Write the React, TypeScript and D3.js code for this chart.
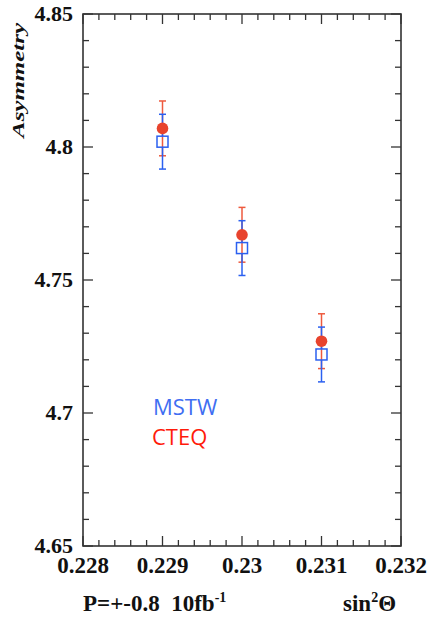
import React from "react";
import * as d3 from "d3";

// sin^2(theta) positions of the three samples
const sinValues = [0.229, 0.23, 0.231];
// asymmetry predicted with CTEQ PDFs
const cteqValues = [4.807, 4.767, 4.727];
const cteqErrors = [0.0103, 0.0103, 0.0103];
// asymmetry predicted with MSTW PDFs
const mstwValues = [4.802, 4.762, 4.722];
const mstwErrors = [0.0103, 0.0103, 0.0103];

const xTickLabels = [0.228, 0.229, 0.23, 0.231, 0.232];
const yTickLabels = [4.65, 4.7, 4.75, 4.8, 4.85];

const W = 431;
const H = 620;
const frame = { left: 83, right: 401, top: 14, bottom: 546 };

const RED = "#e8432d";
const RED_BAR = "#ee5a3e";
const BLUE = "#2b60f0";
const AXIS = "#333";
const serif = "'Liberation Serif', 'Times New Roman', serif";

export default function App() {
  const x = d3.scaleLinear().domain([0.228, 0.232]).range([frame.left, frame.right]);
  const y = d3.scaleLinear().domain([4.65, 4.85]).range([frame.bottom, frame.top]);

  const xMinor = d3.range(0, 21).map((i) => 0.228 + i * 0.0002);
  const yMinor = d3.range(0, 21).map((i) => 4.65 + i * 0.01);
  const isMajorX = (v: number) => Math.abs(v * 1000 - Math.round(v * 1000)) < 1e-6;
  const isMajorY = (v: number) => Math.abs(v * 20 - Math.round(v * 20)) < 1e-6;

  const cap = 3.5;
  const half = 5.5;

  return (
    <svg
      width={W}
      height={H}
      style={{ position: "absolute", left: 0, top: 0, background: "#fff" }}
    >
      {/* frame */}
      <rect
        x={frame.left}
        y={frame.top}
        width={frame.right - frame.left}
        height={frame.bottom - frame.top}
        fill="none"
        stroke={AXIS}
        strokeWidth={1.6}
      />
      {/* x ticks, bottom and top */}
      {xMinor.map((v, i) => {
        const len = isMajorX(v) ? 10 : 6;
        const px = x(v);
        return (
          <g key={"xt" + i} stroke={AXIS} strokeWidth={1.3}>
            <line x1={px} x2={px} y1={frame.bottom} y2={frame.bottom - len} />
            <line x1={px} x2={px} y1={frame.top} y2={frame.top + len} />
          </g>
        );
      })}
      {/* y ticks, left and right */}
      {yMinor.map((v, i) => {
        const len = isMajorY(v) ? 10 : 6;
        const py = y(v);
        return (
          <g key={"yt" + i} stroke={AXIS} strokeWidth={1.3}>
            <line x1={frame.left} x2={frame.left + len} y1={py} y2={py} />
            <line x1={frame.right} x2={frame.right - len} y1={py} y2={py} />
          </g>
        );
      })}
      {/* tick labels */}
      {xTickLabels.map((v) => (
        <text
          key={"xl" + v}
          x={x(v)}
          y={frame.bottom + 27}
          textAnchor="middle"
          fontFamily={serif}
          fontWeight="bold"
          fontSize={23}
          fill="#111"
        >
          {String(v)}
        </text>
      ))}
      {yTickLabels.map((v) => (
        <text
          key={"yl" + v}
          x={frame.left - 10}
          y={y(v)}
          dy="0.34em"
          textAnchor="end"
          fontFamily={serif}
          fontWeight="bold"
          fontSize={22}
          fill="#111"
        >
          {String(v)}
        </text>
      ))}
      {/* y axis title */}
      <text
        transform={`translate(24,23) rotate(-90)`}
        textAnchor="end"
        fontFamily={serif}
        fontWeight="bold"
        fontStyle="italic"
        fontSize={16}
        textLength={115}
        lengthAdjust="spacingAndGlyphs"
        fill="#111"
      >
        Asymmetry
      </text>
      {/* bottom captions */}
      <text x={83} y={611} fontFamily={serif} fontWeight="bold" fontSize={23} fill="#111">
        P=+-0.8{"\u00a0\u00a0"}10fb
        <tspan dy={-9} fontSize={14}>-1</tspan>
      </text>
      <text x={343} y={611} fontFamily={serif} fontWeight="bold" fontSize={23} fill="#111">
        sin
        <tspan dy={-9} fontSize={14}>2</tspan>
        <tspan dy={9}>Θ</tspan>
      </text>

      {/* CTEQ error bars */}
      {sinValues.map((s, i) => {
        const px = x(s);
        const y1 = y(cteqValues[i] + cteqErrors[i]);
        const y0 = y(cteqValues[i] - cteqErrors[i]);
        return (
          <g key={"ce" + i} stroke={RED_BAR} strokeWidth={1.5}>
            <line x1={px} x2={px} y1={y1} y2={y0} />
            <line x1={px - cap} x2={px + cap} y1={y1} y2={y1} />
            <line x1={px - cap} x2={px + cap} y1={y0} y2={y0} />
          </g>
        );
      })}
      {/* MSTW error bars, open around the marker */}
      {sinValues.map((s, i) => {
        const px = x(s);
        const pc = y(mstwValues[i]);
        const y1 = y(mstwValues[i] + mstwErrors[i]);
        const y0 = y(mstwValues[i] - mstwErrors[i]);
        return (
          <g key={"me" + i} stroke={BLUE} strokeWidth={1.5}>
            <line x1={px} x2={px} y1={y1} y2={pc - half} />
            <line x1={px} x2={px} y1={pc + half} y2={y0} />
            <line x1={px - cap} x2={px + cap} y1={y1} y2={y1} />
            <line x1={px - cap} x2={px + cap} y1={y0} y2={y0} />
          </g>
        );
      })}
      {/* MSTW markers */}
      {sinValues.map((s, i) => (
        <rect
          key={"mm" + i}
          x={x(s) - half}
          y={y(mstwValues[i]) - half}
          width={half * 2}
          height={half * 2}
          fill="none"
          stroke={BLUE}
          strokeWidth={1.5}
        />
      ))}
      {/* CTEQ markers */}
      {sinValues.map((s, i) => (
        <circle key={"cm" + i} cx={x(s)} cy={y(cteqValues[i])} r={5.8} fill={RED} />
      ))}

      {/* legend */}
      <text x={153} y={415} fontFamily="'Open Sans', sans-serif" fontSize={22} fill="#3f6ef2">
        MSTW
      </text>
      <text x={152} y={445} fontFamily="'Open Sans', sans-serif" fontSize={22} fill="#ff1a0a">
        CTEQ
      </text>
    </svg>
  );
}
